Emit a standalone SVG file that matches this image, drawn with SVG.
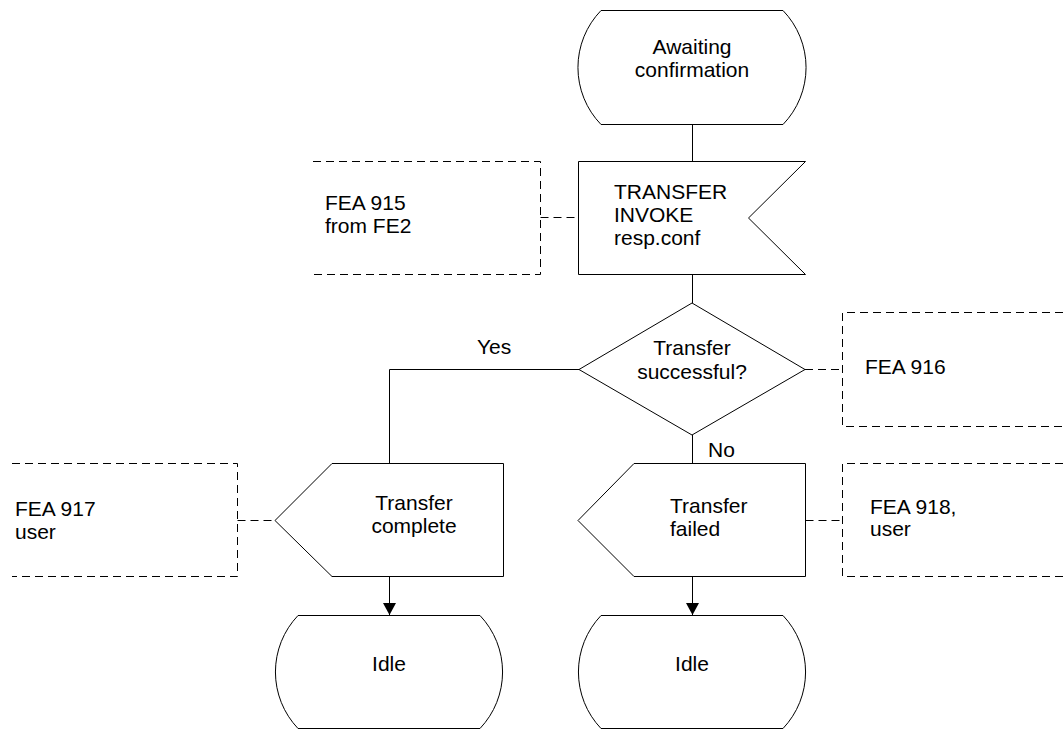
<svg xmlns="http://www.w3.org/2000/svg" width="1063" height="729" viewBox="0 0 1063 729">
<defs>
<style>
.s{fill:#fff;stroke:#000;stroke-width:1}
.d{fill:none;stroke:#000;stroke-width:1;stroke-dasharray:8 5}
.c{fill:none;stroke:#000;stroke-width:1}
text{font-family:"Liberation Sans",Arial,sans-serif;font-size:21px;fill:#000}
.m{text-anchor:middle}
</style>
<marker id="arr" markerUnits="userSpaceOnUse" markerWidth="12" markerHeight="13" refX="12" refY="6.5" orient="auto">
<path d="M0,0 L12,6.5 L0,13 Z" fill="#000"/>
</marker>
</defs>
<rect width="1063" height="729" fill="#fff"/>
<g id="connectors">
<path class="c" d="M692.5,124 V161.5"/>
<path class="c" d="M692.5,274.5 V303"/>
<path class="c" d="M579,369.5 H389.5 V463.5"/>
<path class="c" d="M692.5,435 V463.5"/>
<path class="c" d="M389.5,576.5 V615" marker-end="url(#arr)"/>
<path class="c" d="M692.5,576.5 V615" marker-end="url(#arr)"/>
<path class="d" d="M540.5,217.5 H578"/>
<path class="d" d="M237.5,520.5 H275"/>
<path class="d" d="M805,369.5 H842"/>
<path class="d" d="M805.5,520.5 H842"/>
<text x="477" y="354">Yes</text>
<text x="708" y="457">No</text>
</g>
<g id="awaiting">
<path class="s" d="M601,10.5 H783 A82,82 0 0 1 783,124.5 H601 A82,82 0 0 1 601,10.5 Z"/>
<text class="m" x="692" y="54">Awaiting</text>
<text class="m" x="692" y="77">confirmation</text>
</g>
<g id="transfer-invoke">
<path class="s" d="M578.5,161.5 H805.5 L748.5,218 L805.5,274.5 H578.5 Z"/>
<text x="614" y="199">TRANSFER</text>
<text x="614" y="222">INVOKE</text>
<text x="614" y="245">resp.conf</text>
</g>
<g id="fea915">
<path class="d" d="M313,161.5 H540.5 V274.5 H313"/>
<text x="325" y="210">FEA 915</text>
<text x="325" y="233">from FE2</text>
</g>
<g id="decision">
<path class="s" d="M692,303 L805,369.5 L692,435 L579,369.5 Z"/>
<text class="m" x="692" y="355">Transfer</text>
<text class="m" x="692" y="379">successful?</text>
</g>
<g id="fea916">
<path class="d" d="M1063,312.5 H842.5 V426.5 H1063"/>
<text x="865" y="374">FEA 916</text>
</g>
<g id="transfer-complete">
<path class="s" d="M275,520.5 L332,463.5 H503.5 V576.5 H332 Z"/>
<text class="m" x="414" y="510">Transfer</text>
<text class="m" x="414" y="533">complete</text>
</g>
<g id="fea917">
<path class="d" d="M12,463.5 H237.5 V576.5 H12"/>
<text x="15" y="516">FEA 917</text>
<text x="15" y="539">user</text>
</g>
<g id="transfer-failed">
<path class="s" d="M578,520.5 L634,463.5 H805.5 V576.5 H634 Z"/>
<text x="670" y="513">Transfer</text>
<text x="670" y="536">failed</text>
</g>
<g id="fea918">
<path class="d" d="M1063,463.5 H842.5 V576.5 H1063"/>
<text x="870" y="514">FEA 918,</text>
<text x="870" y="536">user</text>
</g>
<g id="idle-left">
<path class="s" d="M298,615.5 H480 A82,82 0 0 1 480,728.5 H298 A82,82 0 0 1 298,615.5 Z"/>
<text class="m" x="389" y="671">Idle</text>
</g>
<g id="idle-right">
<path class="s" d="M601,615.5 H783 A82,82 0 0 1 783,728.5 H601 A82,82 0 0 1 601,615.5 Z"/>
<text class="m" x="692" y="671">Idle</text>
</g>
</svg>
